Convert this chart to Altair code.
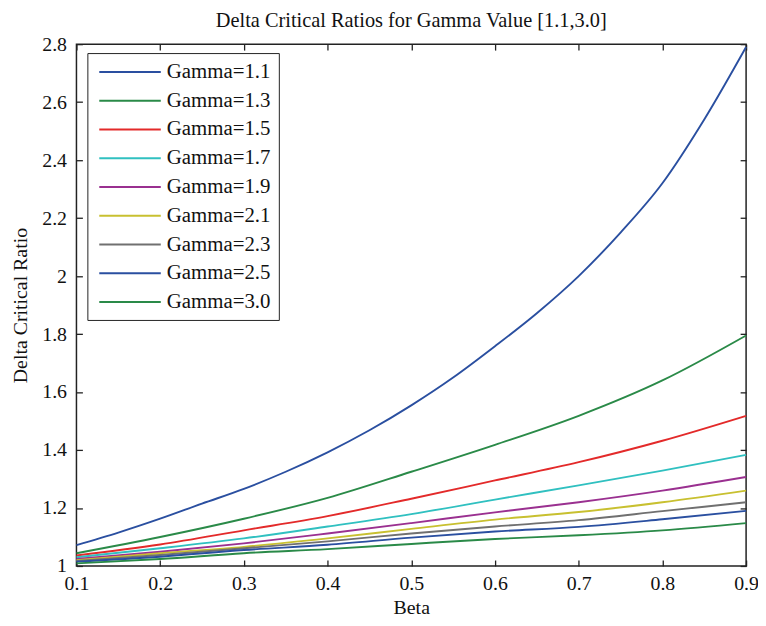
import altair as alt
import pandas as pd

# ---- data ----
beta_fine = [0.1, 0.15, 0.2, 0.25, 0.3, 0.35, 0.4, 0.45, 0.5, 0.55, 0.6, 0.65, 0.7, 0.75, 0.8, 0.85, 0.9]
beta = [0.1, 0.2, 0.3, 0.4, 0.5, 0.6, 0.7, 0.8, 0.9]

g11 = [1.072, 1.115, 1.163, 1.215, 1.266, 1.325, 1.392, 1.468, 1.554, 1.65, 1.758, 1.872, 2.0, 2.15, 2.32, 2.54, 2.79]
g13 = [1.044, 1.10, 1.163, 1.235, 1.325, 1.418, 1.518, 1.64, 1.795]
g15 = [1.036, 1.074, 1.123, 1.172, 1.232, 1.295, 1.358, 1.432, 1.518]
g17 = [1.03, 1.061, 1.095, 1.136, 1.179, 1.229, 1.278, 1.329, 1.383]
g19 = [1.024, 1.049, 1.078, 1.112, 1.148, 1.185, 1.22, 1.26, 1.307]
g21 = [1.02, 1.044, 1.066, 1.095, 1.128, 1.16, 1.186, 1.22, 1.26]
g23 = [1.017, 1.038, 1.061, 1.085, 1.112, 1.136, 1.158, 1.189, 1.22]
g25 = [1.015, 1.032, 1.055, 1.073, 1.098, 1.119, 1.135, 1.161, 1.19]
g30 = [1.009, 1.024, 1.044, 1.058, 1.076, 1.093, 1.106, 1.123, 1.148]

labels = ["Gamma=1.1", "Gamma=1.3", "Gamma=1.5", "Gamma=1.7", "Gamma=1.9",
          "Gamma=2.1", "Gamma=2.3", "Gamma=2.5", "Gamma=3.0"]
colors = ["#2a4fa0", "#2a8a48", "#e32a2a", "#30c0c0", "#9a3090",
          "#c8c030", "#707070", "#2a4fa0", "#2a8a48"]

x_ticks = [0.1, 0.2, 0.3, 0.4, 0.5, 0.6, 0.7, 0.8, 0.9]
y_ticks = [1, 1.2, 1.4, 1.6, 1.8, 2, 2.2, 2.4, 2.6, 2.8]

series = [g11, g13, g15, g17, g19, g21, g23, g25, g30]
rows = []
for lab, vals in zip(labels, series):
    xs = beta_fine if len(vals) == len(beta_fine) else beta
    for b, v in zip(xs, vals):
        rows.append({"beta": b, "ratio": v, "series": lab})
df = pd.DataFrame(rows)

W, H = 675, 526
FONT = "Liberation Serif"
AX = "#222"

xscale = alt.Scale(domain=[0.1, 0.9], nice=False, zero=False)
yscale = alt.Scale(domain=[1, 2.8], nice=False, zero=False)

base = alt.Chart(df)

lines = base.mark_line(strokeWidth=1.9, interpolate="monotone").encode(
    x=alt.X("beta:Q", scale=xscale,
            axis=alt.Axis(orient="bottom", values=x_ticks, format=".1f", ticks=False,
                          domain=False, grid=False, labelPadding=8, labelFlush=False,
                          labelOverlap=False, title="Beta", titlePadding=4)),
    y=alt.Y("ratio:Q", scale=yscale,
            axis=alt.Axis(orient="left", values=y_ticks, labelExpr="datum.value + ''",
                          ticks=False, domain=False, grid=False, labelPadding=10,
                          labelFlush=False, labelOverlap=False,
                          title="Delta Critical Ratio", titlePadding=11)),
    color=alt.Color("series:N",
                    scale=alt.Scale(domain=labels, range=colors),
                    sort=labels,
                    legend=alt.Legend(title=None, orient="none", legendX=11, legendY=9,
                                      symbolType="M-3.1,0H3.1", symbolSize=400,
                                      symbolStrokeWidth=2, symbolOffset=24,
                                      labelFont=FONT, labelFontSize=21,
                                      labelColor="#111", labelOffset=26,
                                      rowPadding=8.0, padding=8,
                                      strokeColor=AX, fillColor="white",
                                      labelLimit=300)),
)

# inward ticks at bottom and left
ticks_b = base.mark_line(opacity=0).encode(
    x=alt.X("beta:Q", scale=xscale,
            axis=alt.Axis(orient="top", offset=-H, values=x_ticks, labels=False,
                          domain=False, grid=False, tickSize=6, tickColor=AX,
                          tickWidth=1.3, title=None)),
    y=alt.Y("ratio:Q", scale=yscale,
            axis=alt.Axis(orient="right", offset=-W, values=y_ticks, labels=False,
                          domain=False, grid=False, tickSize=6, tickColor=AX,
                          tickWidth=1.3, title=None)),
    detail="series:N",
)

# inward ticks at top and right
ticks_t = base.mark_line(opacity=0).encode(
    x=alt.X("beta:Q", scale=xscale,
            axis=alt.Axis(orient="bottom", offset=-H, values=x_ticks, labels=False,
                          domain=False, grid=False, tickSize=6, tickColor=AX,
                          tickWidth=1.3, title=None)),
    y=alt.Y("ratio:Q", scale=yscale,
            axis=alt.Axis(orient="left", offset=-W, values=y_ticks, labels=False,
                          domain=False, grid=False, tickSize=6, tickColor=AX,
                          tickWidth=1.3, title=None)),
    detail="series:N",
)

chart = alt.layer(lines, ticks_b, ticks_t).resolve_axis(
    x="independent", y="independent"
).properties(
    width=W, height=H,
    title=alt.TitleParams("Delta Critical Ratios for Gamma Value [1.1,3.0]",
                          font=FONT, fontSize=20.5, fontWeight="normal",
                          color="#111", anchor="middle", frame="group", offset=3),
    autosize=alt.AutoSizeParams(type="none"),
    padding={"left": 69, "top": 34, "right": 12, "bottom": 50},
    background="white",
).configure_view(
    stroke=AX, strokeWidth=1.5
).configure_axis(
    labelFont=FONT, labelFontSize=20, labelColor="#111",
    titleFont=FONT, titleFontSize=20, titleFontWeight="normal", titleColor="#111",
)

chart.save("out.html", embed_options={"renderer": "svg", "actions": False})
